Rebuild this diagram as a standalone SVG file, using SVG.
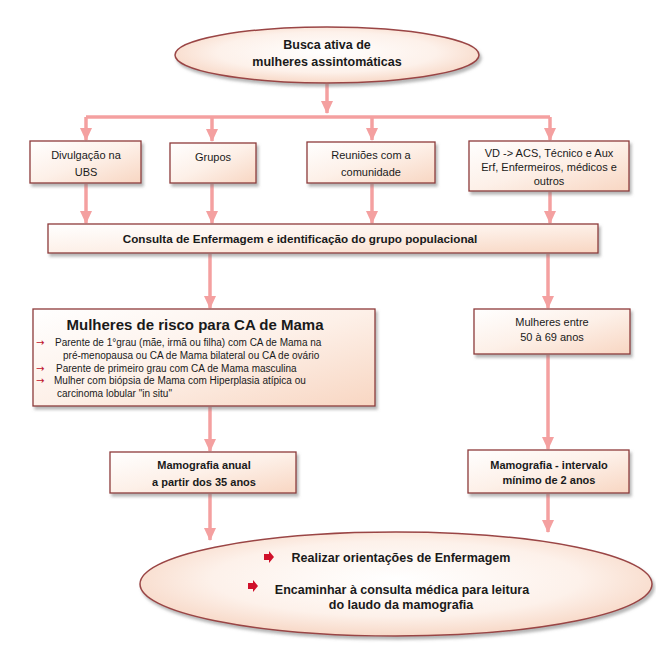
<svg xmlns="http://www.w3.org/2000/svg" width="656" height="665" viewBox="0 0 656 665">
<defs>
  <linearGradient id="boxFill" x1="0" y1="0" x2="1" y2="1">
    <stop offset="0" stop-color="#ffffff"/>
    <stop offset="0.5" stop-color="#fdf0e8"/>
    <stop offset="1" stop-color="#f8d6c2"/>
  </linearGradient>
  <radialGradient id="ellFill" cx="0.5" cy="0.45" r="0.6">
    <stop offset="0" stop-color="#ffffff"/>
    <stop offset="0.6" stop-color="#fdf1ea"/>
    <stop offset="1" stop-color="#f6d2be"/>
  </radialGradient>
  <filter id="shadow" x="-10%" y="-10%" width="125%" height="140%">
    <feDropShadow dx="2" dy="3" stdDeviation="1.5" flood-color="#7a7a7a" flood-opacity="0.55"/>
  </filter>
  <marker id="arr" markerUnits="userSpaceOnUse" markerWidth="14" markerHeight="14" refX="12" refY="7" orient="auto">
    <path d="M0,1 L13,7 L0,13 Z" fill="#f4a0a0"/>
  </marker>
  <style>
    .box { fill: url(#boxFill); stroke: #8e3b3b; stroke-width: 1.3; filter: url(#shadow); }
    .ell { fill: url(#ellFill); stroke: #9a4545; stroke-width: 1.5; filter: url(#shadow); }
    .con { fill: none; stroke: #f4a0a0; stroke-width: 3.5; }
    .arrow { marker-end: url(#arr); }
    text { font-family: "Liberation Sans", Arial, sans-serif; fill: #1a1a1a; }
    .t { font-size: 11px; text-anchor: middle; }
    .b { font-size: 11px; font-weight: bold; text-anchor: middle; }
    .bm { font-size: 12.5px; font-weight: bold; text-anchor: middle; }
    .bc { font-size: 11.7px; font-weight: bold; text-anchor: middle; }
    .bl { font-size: 12.5px; font-weight: bold; text-anchor: middle; }
    .s { font-size: 10px; }
    .red { fill: #c0102a; font-size: 10px; font-family: "DejaVu Sans", sans-serif; }
    .title { font-size: 15px; font-weight: bold; text-anchor: middle; }
  </style>
</defs>

<g id="connectors">
  <path class="con arrow" d="M327,84 L327,113"/>
  <path class="con" d="M86,117 L550,117"/>
  <path class="con arrow" d="M86,117 L86,140"/>
  <path class="con arrow" d="M212,117 L212,141"/>
  <path class="con arrow" d="M372,117 L372,140"/>
  <path class="con arrow" d="M550,117 L550,140"/>
  <path class="con arrow" d="M86,184 L86,223"/>
  <path class="con arrow" d="M212,184 L212,223"/>
  <path class="con arrow" d="M372,184 L372,223"/>
  <path class="con arrow" d="M550,192 L550,223"/>
  <path class="con arrow" d="M210,254 L210,308"/>
  <path class="con arrow" d="M548,254 L548,308"/>
  <path class="con arrow" d="M210,407 L210,451"/>
  <path class="con arrow" d="M548,355 L548,449"/>
  <path class="con arrow" d="M210,494 L210,540"/>
  <path class="con arrow" d="M548,494 L548,532"/>
</g>

<g id="busca">
  <ellipse class="ell" cx="327" cy="55" rx="152" ry="28"/>
  <text class="bm" x="327" y="49">Busca ativa de</text>
  <text class="bm" x="327" y="66">mulheres assintomáticas</text>
</g>

<g id="divulgacao">
  <rect class="box" x="30" y="141" width="111" height="42"/>
  <text class="t" x="86" y="159">Divulgação na</text>
  <text class="t" x="86" y="176">UBS</text>
</g>

<g id="grupos">
  <rect class="box" x="170" y="143" width="86" height="40"/>
  <text class="t" x="213" y="161">Grupos</text>
</g>

<g id="reunioes">
  <rect class="box" x="307" y="142" width="128" height="41"/>
  <text class="t" x="371" y="159">Reuniões com a</text>
  <text class="t" x="371" y="176">comunidade</text>
</g>

<g id="vd">
  <rect class="box" x="469" y="141" width="160" height="50"/>
  <text class="t" x="549" y="157">VD -&gt; ACS, Técnico e Aux</text>
  <text class="t" x="549" y="171">Erf, Enfermeiros, médicos e</text>
  <text class="t" x="549" y="185">outros</text>
</g>

<g id="consulta">
  <rect class="box" x="48" y="224" width="550" height="29"/>
  <text class="bc" x="300" y="243">Consulta de Enfermagem e identificação do grupo populacional</text>
</g>

<g id="risco">
  <rect class="box" x="33" y="309" width="342" height="97"/>
  <text class="title" x="195" y="330">Mulheres de risco para CA de Mama</text>
  <text class="red" x="36" y="346">→</text>
  <text class="s" x="55" y="346">Parente de 1°grau (mãe, irmã ou filha) com CA de Mama na</text>
  <text class="s" x="63" y="359">pré-menopausa ou CA de Mama bilateral ou CA de ovário</text>
  <text class="red" x="36" y="372">→</text>
  <text class="s" x="56" y="372">Parente de primeiro grau com CA de Mama masculina</text>
  <text class="red" x="36" y="384">→</text>
  <text class="s" x="54" y="384">Mulher com biópsia de Mama com Hiperplasia atípica ou</text>
  <text class="s" x="57" y="397">carcinoma lobular "in situ"</text>
</g>

<g id="faixa">
  <rect class="box" x="474" y="309" width="156" height="45"/>
  <text class="t" x="552" y="326">Mulheres entre</text>
  <text class="t" x="552" y="341">50 à 69 anos</text>
</g>

<g id="mamo35">
  <rect class="box" x="110" y="452" width="186" height="41"/>
  <text class="b" x="204" y="469">Mamografia anual</text>
  <text class="b" x="204" y="486">a partir dos 35 anos</text>
</g>

<g id="mamo2">
  <rect class="box" x="468" y="450" width="161" height="43"/>
  <text class="b" x="549" y="469">Mamografia - intervalo</text>
  <text class="b" x="549" y="484">mínimo de 2 anos</text>
</g>

<g id="orientacoes">
  <ellipse class="ell" cx="396" cy="584" rx="256" ry="52"/>
  <path d="M264,554 L269,554 L269,551 L274,557 L269,563 L269,560 L264,560 Z" fill="#d0102a"/>
  <text class="bl" x="401" y="562">Realizar orientações de Enfermagem</text>
  <path d="M248,583 L253,583 L253,580 L258,586 L253,592 L253,589 L248,589 Z" fill="#d0102a"/>
  <text class="bl" x="402" y="594">Encaminhar à consulta médica para leitura</text>
  <text class="bl" x="401" y="609">do laudo da mamografia</text>
</g>
</svg>
